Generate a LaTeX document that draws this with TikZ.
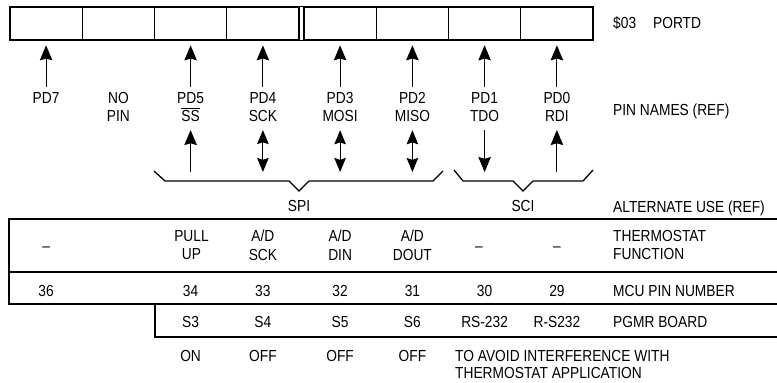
\documentclass[tikz,border=0pt]{standalone}
\usepackage{fontspec}
\setmainfont{Liberation Sans}[FakeStretch=0.86]
\usetikzlibrary{arrows.meta}

\tikzset{
  linie/.style={line width=1.3pt},
  bit/.style={draw, line width=1.3pt, minimum width=72.25pt, minimum height=33pt, inner sep=0pt},
  txt/.style={font=\fontsize{16}{18.5}\selectfont, inner sep=0pt},
  name2/.style={txt, anchor=north, align=center},
  unten/.style={txt, anchor=base},
  rechts/.style={txt, anchor=base west},
  rechts2/.style={txt, anchor=north west, align=left},
  pfeil/.style={-{Stealth[length=15pt,width=12.5pt,inset=1.8pt]}, line width=1.1pt},
  doppel/.style={{Stealth[length=14pt,width=11.5pt,inset=1.8pt]}-{Stealth[length=14pt,width=11.5pt,inset=1.8pt]}, line width=1.1pt},
}

\begin{document}
\begin{tikzpicture}[x=1pt,y=-1pt]
  \useasboundingbox (0,0) rectangle (777,383);

  % Register PORTD, acht Bits
  \node[bit] (b7) at (46.1,23.5)  {};
  \node[bit] (b6) at (118.4,23.5) {};
  \node[bit] (b5) at (190.6,23.5) {};
  \node[bit] (b4) at (262.9,23.5) {};
  \node[bit] (b3) at (340.1,23.5) {};
  \node[bit] (b2) at (412.4,23.5) {};
  \node[bit] (b1) at (484.6,23.5) {};
  \node[bit] (b0) at (556.9,23.5) {};
  \draw[linie] (b4.north east) rectangle (b3.south west);
  \node[rechts] (portd) at (613,28) {\$03\hspace{17pt}PORTD};

  % Pin-Namen
  \node[name2] (pd7)   at (46.1,92)  {PD7};
  \node[name2] (nopin) at (118.4,92) {NO\\PIN};
  \node[name2] (pd5)   at (190.6,92) {PD5\\\vbox{\hrule height 1pt\kern 2pt\hbox{SS}}};
  \node[name2] (pd4)   at (262.9,92) {PD4\\SCK};
  \node[name2] (pd3)   at (340.1,92) {PD3\\MOSI};
  \node[name2] (pd2)   at (412.4,92) {PD2\\MISO};
  \node[name2] (pd1)   at (484.6,92) {PD1\\TDO};
  \node[name2] (pd0)   at (556.9,92) {PD0\\RDI};
  \node[rechts] (pinref) at (613,115) {PIN NAMES (REF)};

  % Pfeile zum Register
  \draw[pfeil, shorten <=5pt, shorten >=4.7pt] (pd7.north) -- (b7.south);
  \draw[pfeil, shorten <=5pt, shorten >=4.7pt] (pd5.north) -- (b5.south);
  \draw[pfeil, shorten <=5pt, shorten >=4.7pt] (pd4.north) -- (b4.south);
  \draw[pfeil, shorten <=5pt, shorten >=4.7pt] (pd3.north) -- (b3.south);
  \draw[pfeil, shorten <=5pt, shorten >=4.7pt] (pd2.north) -- (b2.south);
  \draw[pfeil, shorten <=5pt, shorten >=4.7pt] (pd1.north) -- (b1.south);
  \draw[pfeil, shorten <=5pt, shorten >=4.7pt] (pd0.north) -- (b0.south);

  % Alternative Nutzung
  \coordinate (a5) at (190.6,172);
  \coordinate (a4) at (262.9,172);
  \coordinate (a3) at (340.1,172);
  \coordinate (a2) at (412.4,172);
  \coordinate (a1) at (484.6,172);
  \coordinate (a0) at (556.9,172);
  \draw[pfeil, shorten >=8pt] (a5) -- (pd5.south);
  \draw[doppel, shorten <=8pt] (pd4.south) -- (a4);
  \draw[doppel, shorten <=8pt] (pd3.south) -- (a3);
  \draw[doppel, shorten <=8pt] (pd2.south) -- (a2);
  \draw[pfeil, shorten <=8pt] (pd1.south) -- (a1);
  \draw[pfeil, shorten >=8pt] (a0) -- (pd0.south);

  % Klammern
  \draw[linie] (154,171) -- (165,181) -- (289,181) -- (299,191) -- (309,181) -- (433,181) -- (443,171);
  \draw[linie] (454,170) -- (463,181) -- (513,181) -- (523,191) -- (533,181) -- (583,181) -- (593,170);
  \node[unten] (spi) at (299,211) {SPI};
  \node[unten] (sci) at (523,211) {SCI};
  \node[rechts] (altref) at (613,212) {ALTERNATE USE (REF)};

  % Tabelle
  \draw[linie] (777,219) -- (9,219) -- (9,304) -- (777,304);
  \draw[linie] (9,272) -- (777,272);
  \draw[linie] (155,304) -- (155,337) -- (777,337);

  % Thermostat-Funktion
  \node[unten] (f7) at (46.1,251)  {--};
  \node[name2] (f5) at (191.5,230) {PULL\\UP};
  \node[name2] (f4) at (262.9,230) {A/D\\SCK};
  \node[name2] (f3) at (340.1,230) {A/D\\DIN};
  \node[name2] (f2) at (412.4,230) {A/D\\DOUT};
  \node[unten] (f1) at (479,251)   {--};
  \node[unten] (f0) at (556.9,251) {--};
  \node[rechts2] (fref) at (613,230) {THERMOSTAT\\FUNCTION};

  % MCU-Pins
  \node[unten] (m7) at (46.1,296)  {36};
  \node[unten] (m5) at (190.6,296) {34};
  \node[unten] (m4) at (262.9,296) {33};
  \node[unten] (m3) at (340.1,296) {32};
  \node[unten] (m2) at (412.4,296) {31};
  \node[unten] (m1) at (484.6,296) {30};
  \node[unten] (m0) at (556.9,296) {29};
  \node[rechts] (mref) at (613,296) {MCU PIN NUMBER};

  % Programmierboard
  \node[unten] (s5) at (190.6,327) {S3};
  \node[unten] (s4) at (262.9,327) {S4};
  \node[unten] (s3) at (340.1,327) {S5};
  \node[unten] (s2) at (412.4,327) {S6};
  \node[unten] (s1) at (484.6,327) {RS-232};
  \node[unten] (s0) at (556.9,327) {R-S232};
  \node[rechts] (sref) at (613,327) {PGMR BOARD};

  % Schalterstellung
  \node[unten] (w5) at (190.6,361) {ON};
  \node[unten] (w4) at (262.9,361) {OFF};
  \node[unten] (w3) at (340.1,361) {OFF};
  \node[unten] (w2) at (412.4,361) {OFF};
  \node[rechts2, font=\fontsize{16}{17.5}\selectfont] (hinweis) at (455,350)
    {TO AVOID INTERFERENCE WITH\\THERMOSTAT APPLICATION};
\end{tikzpicture}
\end{document}
